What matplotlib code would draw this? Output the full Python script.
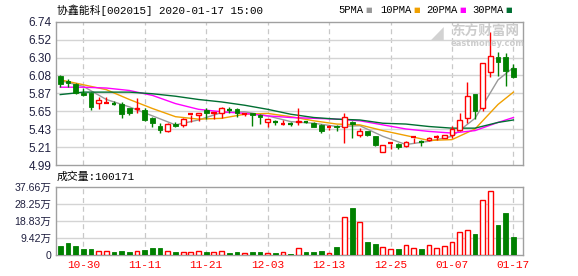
import matplotlib
matplotlib.use('Agg')
import matplotlib.pyplot as plt
import numpy as np
import pandas as pd

# Trading days shown (2020-01-01 was a holiday)
dates = [d.strftime('%m-%d') for d in pd.bdate_range('2019-10-25', '2020-01-17')
         if d.strftime('%Y-%m-%d') != '2020-01-01']
tick_dates = ['10-30', '11-11', '11-21', '12-03', '12-13', '12-25', '01-07', '01-17']

opens = [6.08, 6.01, 5.98, 5.87, 5.87, 5.75, 5.74, 5.75, 5.74, 5.68,
         5.67, 5.66, 5.56, 5.47, 5.40, 5.49, 5.48, 5.60, 5.60, 5.66,
         5.62, 5.63, 5.675, 5.67, 5.61, 5.62, 5.60, 5.51, 5.52, 5.485,
         5.495, 5.51, 5.53, 5.50, 5.48, 5.44, 5.465, 5.45, 5.51, 5.36,
         5.40, 5.34, 5.15, 5.245, 5.25, 5.22, 5.325, 5.28, 5.29, 5.33,
         5.32, 5.36, 5.42, 5.57, 5.86, 5.69, 6.12, 6.31, 6.31, 6.18]
closes = [5.98, 5.99, 5.87, 5.84, 5.70, 5.78, 5.75, 5.74, 5.61, 5.62,
          5.69, 5.54, 5.50, 5.42, 5.49, 5.47, 5.55, 5.61, 5.63, 5.62,
          5.64, 5.68, 5.665, 5.62, 5.61, 5.60, 5.58, 5.55, 5.51, 5.495,
          5.485, 5.53, 5.52, 5.46, 5.40, 5.45, 5.45, 5.58, 5.49, 5.40,
          5.36, 5.24, 5.23, 5.255, 5.21, 5.27, 5.335, 5.27, 5.32, 5.335,
          5.36, 5.43, 5.54, 5.83, 5.65, 6.23, 6.32, 6.25, 6.14, 6.06]
highs = [6.09, 6.04, 5.99, 5.93, 5.88, 5.82, 5.82, 5.77, 5.76, 5.69,
         5.81, 5.68, 5.58, 5.50, 5.50, 5.52, 5.57, 5.61, 5.63, 5.68,
         5.64, 5.70, 5.70, 5.68, 5.63, 5.63, 5.61, 5.55, 5.54, 5.54,
         5.51, 5.68, 5.53, 5.52, 5.49, 5.48, 5.48, 5.63, 5.53, 5.44,
         5.41, 5.35, 5.24, 5.26, 5.26, 5.28, 5.34, 5.30, 5.33, 5.36,
         5.36, 5.47, 5.63, 6.00, 5.86, 6.23, 6.61, 6.37, 6.36, 6.22]
lows = [5.94, 5.94, 5.86, 5.83, 5.66, 5.67, 5.74, 5.72, 5.57, 5.60,
        5.63, 5.53, 5.46, 5.38, 5.39, 5.45, 5.45, 5.52, 5.53, 5.55,
        5.55, 5.56, 5.63, 5.58, 5.59, 5.47, 5.49, 5.46, 5.48, 5.48,
        5.47, 5.48, 5.50, 5.45, 5.38, 5.42, 5.40, 5.26, 5.32, 5.33,
        5.34, 5.22, 5.15, 5.19, 5.19, 5.21, 5.26, 5.22, 5.28, 5.30,
        5.32, 5.32, 5.41, 5.50, 5.55, 5.65, 6.07, 6.08, 5.95, 6.05]
# volume in 万 shares
volumes = [4.96, 6.43, 4.96, 3.31, 3.31, 2.2, 2.2, 1.65, 2.2, 1.65,
           2.2, 2.76, 3.86, 3.86, 2.2, 1.65, 1.65, 1.65, 2.2, 1.65,
           1.65, 2.2, 1.1, 1.65, 1.1, 1.65, 1.65, 1.1, 1.1, 1.65,
           0.55, 3.7, 1.65, 1.65, 2.2, 1.1, 4.4, 20.8, 25.9, 18.2,
           7.17, 6.07, 4.2, 3.1, 3.3, 5.3, 3.86, 3.3, 5.3, 3.86,
           4.96, 7.17, 12.5, 13.6, 11.6, 30.3, 35.3, 16.5, 23.2, 10.02]

# moving averages, every third day
ma_idx = [0, 3, 6, 9, 12, 15, 18, 21, 24, 27, 30, 33, 36, 39, 42, 45, 48, 51, 54, 57, 59]
ma5 = [6.02, 5.95, 5.79, 5.70, 5.59, 5.48, 5.54, 5.63, 5.64, 5.59, 5.52,
       5.50, 5.46, 5.47, 5.34, 5.24, 5.28, 5.34, 5.56, 6.03, 6.18]
ma10 = [6.03, 5.97, 5.91, 5.79, 5.68, 5.58, 5.55, 5.56, 5.61, 5.62, 5.58,
        5.53, 5.49, 5.48, 5.41, 5.35, 5.29, 5.30, 5.43, 5.73, 5.88]
ma20 = [5.94, 5.94, 5.93, 5.90, 5.84, 5.74, 5.67, 5.64, 5.62, 5.59, 5.57,
        5.56, 5.55, 5.53, 5.48, 5.43, 5.40, 5.38, 5.41, 5.51, 5.57]
ma30 = [5.85, 5.88, 5.88, 5.88, 5.86, 5.83, 5.79, 5.76, 5.72, 5.67, 5.61,
        5.57, 5.55, 5.54, 5.50, 5.49, 5.46, 5.44, 5.44, 5.51, 5.54]

price_ticks = ['4.99', '5.21', '5.43', '5.65', '5.87', '6.08', '6.30', '6.52', '6.74']
vol_ticks = ['0', '9.42万', '18.83万', '28.25万', '37.66万']

RED = '#ff0000'
GREEN = '#008000'
MA_COLORS = ['#999999', '#f0a000', '#ff00ff', '#006f32']
GRID = '#d4d4d4'
BORDER = '#a0a0a0'
LABEL = '#202040'
W, H = 578, 276


def fpos(x, y):
    # pixel position -> figure fraction
    return x / W, 1 - y / H


fig = plt.figure(figsize=(W / 100, H / 100), dpi=100)
ax = fig.add_axes([55.5 / W, 111 / H, 467 / W, 143.3 / H])
axv = fig.add_axes([55.5 / W, 21 / H, 467 / W, 68.3 / H])

x = np.arange(len(closes))
o = np.array(opens)
c = np.array(closes)
up = c >= o
width = 0.62

for a in (ax, axv):
    for s in a.spines.values():
        s.set_color(BORDER)
        s.set_linewidth(1)
    a.set_xlim(-0.62, 60.18)
    a.tick_params(length=0, pad=3)
    a.set_xticks([])
    for d in tick_dates:
        a.axvline(dates.index(d), color='#c8c8c8', lw=0.9, ls=(0, (4, 3)), zorder=0)

# price panel
p_lo, p_hi = 4.99, 6.74
p_pos = np.linspace(p_lo, p_hi, len(price_ticks))
ax.set_ylim(p_lo, p_hi)
ax.set_yticks(p_pos, price_ticks, fontsize=8.5, color=LABEL, family='Liberation Sans')
for p in p_pos[1:-1]:
    ax.axhline(p, color=GRID, lw=1, zorder=0)

# watermark
fig.text(*fpos(451, 31), '东方财富网', fontsize=9.8, color='#cccccc',
         family='Noto Sans CJK SC', va='center', ha='left', fontweight='bold')
fig.text(*fpos(451, 43), 'eastmoney.com', fontsize=6, color='#cccccc',
         family='DejaVu Sans', va='center', ha='left', fontweight='bold')
fig.text(*fpos(437, 34), '◢', fontsize=12, color='#d2d2d2', va='center', ha='center')

# moving averages
for vals, col in zip([ma5, ma10, ma20, ma30], MA_COLORS):
    ax.plot(ma_idx, vals, color=col, lw=1, zorder=2)

# candles
body_lo = np.minimum(o, c)
body_hi = np.maximum(o, c)
for i in x:
    col = RED if up[i] else GREEN
    ax.vlines(i, lows[i], body_lo[i], color=col, lw=1, zorder=3)
    ax.vlines(i, body_hi[i], highs[i], color=col, lw=1, zorder=3)
    if body_hi[i] - body_lo[i] < 0.012:
        ax.hlines(c[i], i - width / 2, i + width / 2, color=col, lw=1.6, zorder=4)
    elif up[i]:
        ax.bar(i, body_hi[i] - body_lo[i], width, bottom=body_lo[i], color='white',
               edgecolor=col, linewidth=1, zorder=4)
    else:
        ax.bar(i, body_hi[i] - body_lo[i], width, bottom=body_lo[i], color=col,
               edgecolor=col, linewidth=0.6, zorder=4)

# volume panel
v_hi = 37.66
v_pos = np.linspace(0, v_hi, len(vol_ticks))
axv.set_ylim(0, v_hi)
axv.set_yticks(v_pos, vol_ticks, fontsize=7.6, color=LABEL,
               family=['Liberation Sans', 'Noto Sans CJK SC'])
for p in v_pos[1:-1]:
    axv.axhline(p, color=GRID, lw=1, zorder=0)
axv.bar(x[up], np.array(volumes)[up], width, color='white', edgecolor=RED,
        linewidth=1, zorder=3)
axv.bar(x[~up], np.array(volumes)[~up], width, color=GREEN, edgecolor=GREEN,
        linewidth=0.6, zorder=3)

# date labels under the volume panel
for d in tick_dates:
    xf = axv.transData.transform((dates.index(d), 0))[0] / fig.dpi / fig.get_figwidth()
    fig.text(xf, fpos(0, 265.5)[1], d, color=RED, fontsize=8, family='Liberation Mono',
             ha='center', va='center')

# header texts
mono = ['Liberation Mono', 'Noto Sans CJK SC']
fig.text(*fpos(57, 10), '协鑫能科[002015] 2020-01-17 15:00', fontsize=7.8,
         family=mono, va='center', ha='left')
fig.text(*fpos(57, 177), '成交量:100171', fontsize=7.8, family=mono, va='center', ha='left')

legend_items = [('5PMA', 338, 365), ('10PMA', 380, 413), ('20PMA', 426, 459), ('30PMA', 472, 505)]
for (name, tx, sx), col in zip(legend_items, MA_COLORS):
    fig.text(*fpos(tx, 10), name, fontsize=7.6, family='Liberation Mono',
             va='center', ha='left')
    fig.text(*fpos(sx, 10), '■', fontsize=5, color=col, va='center', ha='left')

fig.savefig('out.png', dpi=100)
